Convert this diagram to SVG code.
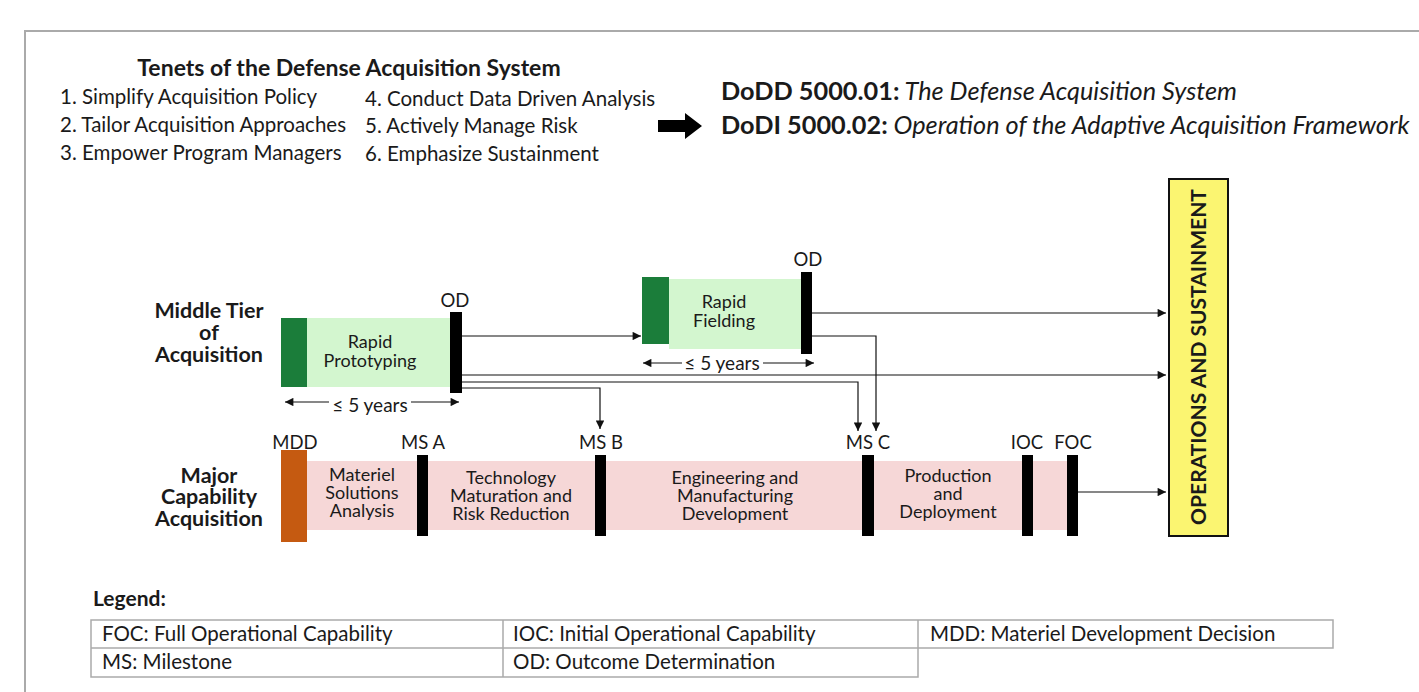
<svg xmlns="http://www.w3.org/2000/svg" width="1419" height="692" viewBox="0 0 1419 692">
<style>
  text { font-family: Lato, "Open Sans", "Liberation Sans", sans-serif; fill: #1a1a1a; }
  .t { font-size: 20.5px; }
  .b { font-weight: bold; }
  .lbl { font-size: 21.5px; font-weight: bold; text-anchor: middle; }
  .ph { font-size: 18px; text-anchor: middle; }
  .ms { font-size: 18.5px; text-anchor: middle; }
  .dim { font-size: 19px; text-anchor: middle; }
  .lg { font-size: 20.5px; }
  .bar { fill: #000; }
  .lt { fill: #d3f6cf; }
  .dk { fill: #1b7d3a; }
  .pink { fill: #f6d7d7; }
  .thin { fill: none; stroke: #111; stroke-width: 1.2; }
  .grid { fill: none; stroke: #aaa; stroke-width: 1.5; }
</style>
<defs>
  <marker id="ahs" viewBox="0 0 10 10" refX="10" refY="5" markerWidth="8" markerHeight="7" orient="auto-start-reverse" markerUnits="strokeWidth">
    <path d="M0,0 L10,5 L0,10 z" fill="#111"/>
  </marker>
</defs>
<rect width="1419" height="692" fill="#fff"/>
<rect x="25" y="31" width="1420" height="700" fill="none" stroke="#aaa" stroke-width="2"/>

<g id="tenets">
  <text x="349" y="76" class="b" font-size="23" text-anchor="middle">Tenets of the Defense Acquisition System</text>
  <text x="60" y="104" class="t">1. Simplify Acquisition Policy</text>
  <text x="60" y="132" class="t">2. Tailor Acquisition Approaches</text>
  <text x="60" y="160" class="t">3. Empower Program Managers</text>
  <text x="365" y="106" class="t">4. Conduct Data Driven Analysis</text>
  <text x="365" y="133" class="t">5. Actively Manage Risk</text>
  <text x="365" y="161" class="t">6. Emphasize Sustainment</text>
</g>

<g id="block-arrow">
  <path d="M658,120 L685,120 L685,113 L702,126 L685,139 L685,132 L658,132 z" fill="#000"/>
</g>

<g id="directives">
  <text x="721" y="100" font-size="25.3"><tspan font-weight="bold">DoDD 5000.01:</tspan><tspan font-style="italic"> The Defense Acquisition System</tspan></text>
  <text x="721" y="134" font-size="25.3"><tspan font-weight="bold">DoDI 5000.02:</tspan><tspan font-style="italic"> Operation of the Adaptive Acquisition Framework</tspan></text>
</g>

<g id="ops-sustainment">
  <rect x="1169" y="179" width="59" height="357" fill="#fbf571" stroke="#111" stroke-width="2"/>
  <text transform="translate(1206,357) rotate(-90)" font-size="21" font-weight="bold" text-anchor="middle">OPERATIONS AND SUSTAINMENT</text>
</g>

<g id="mta-label">
  <text x="209" y="318" class="lbl">Middle Tier</text>
  <text x="209" y="340" class="lbl">of</text>
  <text x="209" y="362" class="lbl">Acquisition</text>
</g>

<g id="rapid-prototyping">
  <rect x="307" y="318" width="143" height="69" class="lt"/>
  <rect x="281" y="318" width="26" height="69" class="dk"/>
  <text x="370" y="348" class="ph">Rapid</text>
  <text x="370" y="367" class="ph">Prototyping</text>
  <rect x="450" y="312" width="12" height="81" class="bar"/>
  <text x="455" y="307" class="ms">OD</text>
  <line x1="285" y1="402" x2="329" y2="402" class="thin" marker-start="url(#ahs)"/>
  <line x1="411" y1="402" x2="459" y2="402" class="thin" marker-end="url(#ahs)"/>
  <text x="370" y="412" class="dim">≤ 5 years</text>
</g>

<g id="rapid-fielding">
  <rect x="669" y="279" width="132" height="70" class="lt"/>
  <rect x="642" y="277" width="27" height="67" class="dk"/>
  <text x="724" y="308" class="ph">Rapid</text>
  <text x="724" y="327" class="ph">Fielding</text>
  <rect x="801" y="272" width="11" height="82" class="bar"/>
  <text x="808" y="266" class="ms">OD</text>
  <line x1="643" y1="363" x2="682" y2="363" class="thin" marker-start="url(#ahs)"/>
  <line x1="763" y1="363" x2="814" y2="363" class="thin" marker-end="url(#ahs)"/>
  <text x="722" y="370" class="dim">≤ 5 years</text>
</g>

<g id="mca-label">
  <text x="209" y="483" class="lbl">Major</text>
  <text x="209" y="504" class="lbl">Capability</text>
  <text x="209" y="526" class="lbl">Acquisition</text>
</g>

<g id="major-capability">
  <rect x="307" y="461" width="761" height="69" class="pink"/>
  <rect x="281" y="450" width="26" height="92" fill="#c55a11"/>
  <text x="295" y="449" class="ms">MDD</text>
  <rect x="417" y="455" width="11" height="81" class="bar"/>
  <text x="423" y="449" class="ms">MS A</text>
  <rect x="595" y="455" width="11" height="81" class="bar"/>
  <text x="601" y="449" class="ms">MS B</text>
  <rect x="862" y="455" width="12" height="81" class="bar"/>
  <text x="868" y="449" class="ms">MS C</text>
  <rect x="1022" y="455" width="11" height="81" class="bar"/>
  <text x="1027" y="449" class="ms">IOC</text>
  <rect x="1067" y="455" width="11" height="81" class="bar"/>
  <text x="1073" y="449" class="ms">FOC</text>
  <text x="362" y="481" class="ph">Materiel</text>
  <text x="362" y="499" class="ph">Solutions</text>
  <text x="362" y="517" class="ph">Analysis</text>
  <text x="511" y="484" class="ph">Technology</text>
  <text x="511" y="502" class="ph">Maturation and</text>
  <text x="511" y="520" class="ph">Risk Reduction</text>
  <text x="735" y="484" class="ph">Engineering and</text>
  <text x="735" y="502" class="ph">Manufacturing</text>
  <text x="735" y="520" class="ph">Development</text>
  <text x="948" y="482" class="ph">Production</text>
  <text x="948" y="500" class="ph">and</text>
  <text x="948" y="518" class="ph">Deployment</text>
</g>

<g id="connectors">
  <polyline points="462,336 641,336" class="thin" marker-end="url(#ahs)"/>
  <polyline points="812,313 1166,313" class="thin" marker-end="url(#ahs)"/>
  <polyline points="462,375 1166,375" class="thin" marker-end="url(#ahs)"/>
  <polyline points="462,382 858,382 858,431" class="thin" marker-end="url(#ahs)"/>
  <polyline points="462,388 600,388 600,429" class="thin" marker-end="url(#ahs)"/>
  <polyline points="812,336 876,336 876,431" class="thin" marker-end="url(#ahs)"/>
  <polyline points="1078,492 1166,492" class="thin" marker-end="url(#ahs)"/>
</g>

<g id="legend">
  <text x="93" y="606" font-size="21" font-weight="bold">Legend:</text>
  <path d="M91,620 H1333 V648 H91 z M91,648 V677 H918 V620 M503,620 V677" class="grid"/>
  <text x="102" y="641" class="lg">FOC: Full Operational Capability</text>
  <text x="513" y="641" class="lg">IOC: Initial Operational Capability</text>
  <text x="930" y="641" class="lg">MDD: Materiel Development Decision</text>
  <text x="102" y="669" class="lg">MS: Milestone</text>
  <text x="513" y="669" class="lg">OD: Outcome Determination</text>
</g>
</svg>
